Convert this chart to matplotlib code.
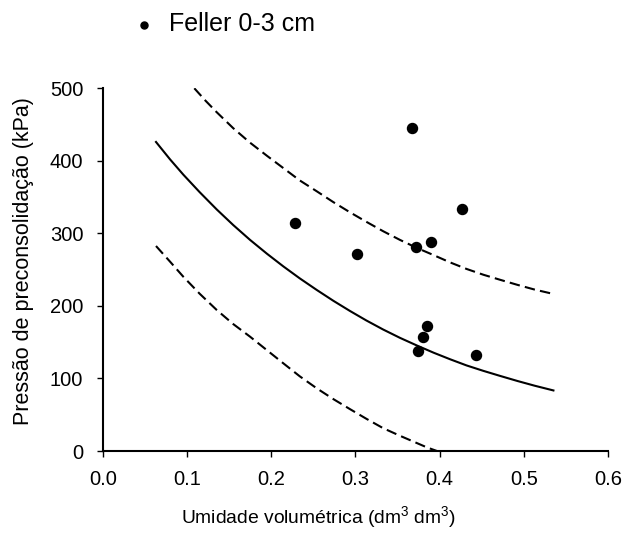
import matplotlib
matplotlib.use("Agg")
import matplotlib.pyplot as plt

# Matplotlib style
plt.rcParams.update({
    "font.family": ["Liberation Sans", "DejaVu Sans"],
    "mathtext.fontset": "custom",
    "mathtext.rm": "Liberation Sans",
    "xtick.labelsize": 14.5,
    "ytick.labelsize": 14.5,
    "axes.linewidth": 1.5,
})

# ── data ──
umidade = [0.367, 0.427, 0.228, 0.3895, 0.3717, 0.3017, 0.3848, 0.3804, 0.3748, 0.4434]
pressao = [444.9, 334, 313.9, 288, 280.8, 271.6, 172.3, 157.6, 138.3, 132.3]

# fitted curve
fit_x = [0.0633, 0.08, 0.0957, 0.115, 0.1354, 0.155, 0.175, 0.195, 0.2145,
         0.234, 0.2542, 0.274, 0.2937, 0.313, 0.333, 0.353, 0.373, 0.393,
         0.4125, 0.432, 0.452, 0.472, 0.4926, 0.513, 0.5352]
fit_y = [426, 402, 381, 357, 333, 311.5, 291, 272, 254.5,
         238, 222, 207, 193, 180, 167.5, 156, 145.5, 135.5,
         126.5, 118, 110.5, 103.5, 96.5, 90, 83.5]

# upper confidence band
upper_x = [0.1088, 0.122, 0.1354, 0.155, 0.175, 0.195, 0.2145, 0.234,
           0.2542, 0.274, 0.2937, 0.313, 0.333, 0.353, 0.373, 0.393,
           0.4125, 0.432, 0.452, 0.472, 0.4926, 0.513, 0.5352]
upper_y = [500, 483, 467, 445, 425, 407, 390, 373,
           358, 343, 329, 316, 303, 291, 280, 270,
           260, 251, 243, 236, 229, 222.5, 216.5]

# lower confidence band
lower_x = [0.0633, 0.08, 0.0957, 0.115, 0.1354, 0.155, 0.175, 0.195,
           0.2145, 0.234, 0.2542, 0.274, 0.2937, 0.313, 0.333, 0.353,
           0.373, 0.385, 0.397]
lower_y = [282.6, 261, 240.3, 217, 194.4, 175, 157.6, 139,
           120.9, 103, 86.4, 71.5, 57.7, 44.5, 31.5, 21,
           11, 5, 0]

fig = plt.figure(figsize=(6.25, 5.37), dpi=100)
ax = fig.add_axes([0.1643, 0.1601, 0.8085, 0.6755])

pts = ax.scatter(umidade, pressao, s=52, color="black", zorder=3,
                 label="Feller 0-3 cm")
ax.plot(fit_x, fit_y, color="black", linewidth=1.5)
ax.plot(upper_x, upper_y, color="black", linewidth=1.5, dashes=(5, 2.5))
ax.plot(lower_x, lower_y, color="black", linewidth=1.5, dashes=(5, 2.5))

ax.set_xlim(0, 0.6)
ax.set_ylim(0, 500)
ax.set_xticks([0.0, 0.1, 0.2, 0.3, 0.4, 0.5, 0.6])
ax.set_xticklabels(["0.0", "0.1", "0.2", "0.3", "0.4", "0.5", "0.6"])
ax.set_yticks([0, 100, 200, 300, 400, 500])
ax.tick_params(direction="out", length=4, width=1, pad=10)
for side in ("top", "right"):
    ax.spines[side].set_visible(False)

# axis titles placed as figure text (x title sits left of centre in the original)
fig.text(0.5104, 0.0242, "Umidade volumétrica (dm$^3$ dm$^3$)",
         ha="center", va="baseline", fontsize=13.9)
fig.text(0.0376, 0.514, "Pressão de preconsolidação (kPa)",
         ha="center", va="center", rotation=90, fontsize=15.5)

ax.legend(handles=[pts], loc="center left", bbox_to_anchor=(0.21, 0.955),
          bbox_transform=fig.transFigure, frameon=False, fontsize=18,
          handlelength=1.0, handletextpad=0.5, borderpad=0,
          borderaxespad=0, markerscale=0.7)

fig.savefig("out.png", dpi=100)
